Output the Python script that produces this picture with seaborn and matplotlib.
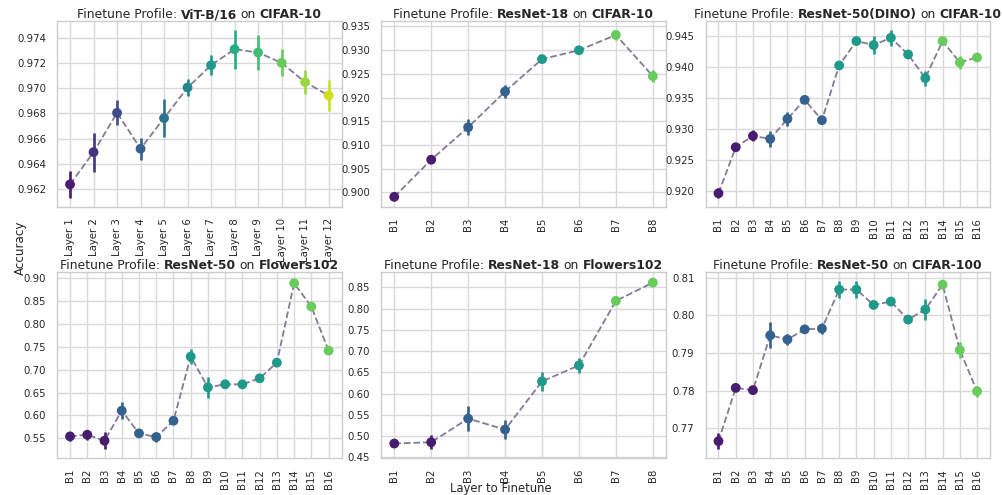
import numpy as np
import matplotlib
matplotlib.use("Agg")
import matplotlib.pyplot as plt
from matplotlib.offsetbox import TextArea, HPacker, AnchoredOffsetbox
from matplotlib.ticker import MultipleLocator
import seaborn as sns

# ---------------- data ----------------
vit_labels = [f"Layer {i}" for i in range(1, 13)]
vit_c10_mean = [0.96237, 0.96493, 0.96805, 0.96520, 0.96763, 0.97006, 0.97183, 0.97310, 0.97284, 0.97202, 0.97049, 0.96943]
vit_c10_err = [0.00110, 0.00155, 0.00100, 0.00086, 0.00150, 0.00070, 0.00080, 0.00155, 0.00136, 0.00107, 0.00097, 0.00120]
vit_groups = list(range(12))

r18_labels = [f"B{i}" for i in range(1, 9)]
r18_groups = [0, 0, 1, 1, 2, 2, 3, 3]
r18_c10_mean = [0.89907, 0.90690, 0.91373, 0.92127, 0.92810, 0.92997, 0.93320, 0.92451]
r18_c10_err = [0.00030, 0.00030, 0.00170, 0.00140, 0.00040, 0.00040, 0.00110, 0.00130]
r18_fl_mean = [0.4828, 0.4859, 0.5414, 0.5156, 0.6289, 0.6664, 0.8180, 0.8609]
r18_fl_err = [0.008, 0.017, 0.029, 0.023, 0.023, 0.018, 0.005, 0.004]

r50_labels = [f"B{i}" for i in range(1, 17)]
r50_groups = [0, 0, 0, 1, 1, 1, 1, 2, 2, 2, 2, 2, 2, 3, 3, 3]
r50dino_c10_mean = [0.91968, 0.92711, 0.92894, 0.92846, 0.93169, 0.93476, 0.93148, 0.94031,
                    0.94425, 0.94360, 0.94478, 0.94209, 0.93827, 0.94425, 0.94080, 0.94160]
r50dino_c10_err = [0.0008, 0.0004, 0.0009, 0.0013, 0.0011, 0.0005, 0.0005, 0.0004,
                   0.0004, 0.0014, 0.0013, 0.0004, 0.0012, 0.0003, 0.0010, 0.0004]
r50_fl_mean = [0.5544, 0.5580, 0.5449, 0.6104, 0.5609, 0.5529, 0.5885, 0.7283,
               0.6613, 0.6679, 0.6679, 0.6810, 0.7152, 0.8884, 0.8374, 0.7414]
r50_fl_err = [0.010, 0.011, 0.019, 0.018, 0.005, 0.010, 0.007, 0.016,
              0.023, 0.008, 0.008, 0.007, 0.007, 0.005, 0.008, 0.005]
r50_c100_mean = [0.7665, 0.7807, 0.7801, 0.7947, 0.7936, 0.7963, 0.7965, 0.8069,
                 0.8069, 0.8028, 0.8037, 0.7989, 0.8016, 0.8082, 0.7908, 0.7798]
r50_c100_err = [0.0022, 0.0005, 0.0005, 0.0035, 0.0015, 0.0006, 0.0014, 0.0022,
                0.0023, 0.0005, 0.0005, 0.0005, 0.0029, 0.0007, 0.0022, 0.0015]

panels = [
    ("ViT-B/16", "CIFAR-10", vit_labels, vit_c10_mean, vit_c10_err, vit_groups, 1, 0.002),
    ("ResNet-18", "CIFAR-10", r18_labels, r18_c10_mean, r18_c10_err, r18_groups, 3, 0.005),
    ("ResNet-50(DINO)", "CIFAR-10", r50_labels, r50dino_c10_mean, r50dino_c10_err, r50_groups, 3, 0.005),
    ("ResNet-50", "Flowers102", r50_labels, r50_fl_mean, r50_fl_err, r50_groups, 3, 0.05),
    ("ResNet-18", "Flowers102", r18_labels, r18_fl_mean, r18_fl_err, r18_groups, 3, 0.05),
    ("ResNet-50", "CIFAR-100", r50_labels, r50_c100_mean, r50_c100_err, r50_groups, 3, 0.01),
]

# ---------------- style ----------------
sns.set_theme(style="whitegrid")
plt.rcParams["font.family"] = ["DejaVu Sans"]
TXT = "#262626"
palette = sns.color_palette("viridis", 12)

fig = plt.figure(figsize=(10.02, 4.95), dpi=100)
axes = fig.subplots(2, 3)
fig.subplots_adjust(left=0.057, right=0.988, top=0.957, bottom=0.075, wspace=0.14, hspace=0.355)

for ax, (model, data, labels, mean, err, groups, step, ytick) in zip(axes.flat, panels):
    mean = np.asarray(mean)
    err = np.asarray(err)
    pos = np.arange(len(labels))
    cols = [palette[g * step] for g in groups]
    cmap = dict(zip(labels, cols))
    sns.lineplot(x=pos, y=mean, ax=ax, color="#867996", linestyle="--", linewidth=1.3, zorder=2)
    ax.vlines(pos, mean - err, mean + err, colors=cols, linewidth=1.9, zorder=3)
    sns.scatterplot(x=pos, y=mean, ax=ax, hue=labels, hue_order=labels, palette=cmap, s=50,
                    edgecolor="none", linewidth=0, legend=False, zorder=4)
    ax.set_xticks(pos)
    ax.set_xticklabels(labels, rotation=90, fontsize=7.3, color=TXT)
    ax.yaxis.set_major_locator(MultipleLocator(ytick))
    ax.tick_params(axis="y", labelsize=7.3, labelcolor=TXT, pad=2)
    ax.tick_params(axis="x", pad=2)
    ax.set_xlabel("")
    ax.set_ylabel("")
    for sp in ax.spines.values():
        sp.set_color("#cccccc")
        sp.set_linewidth(1.0)
    ax.grid(color="#d9d9d9", linewidth=1.0)

    parts = [("Finetune Profile:", "normal"), (model, "bold"), ("on", "normal"), (data, "bold")]
    boxes = [TextArea(t, textprops=dict(fontsize=8.9, fontweight=w, color=TXT)) for t, w in parts]
    pack = HPacker(children=boxes, align="baseline", pad=0, sep=2.6)
    anch = AnchoredOffsetbox(loc="lower center", child=pack, pad=0.0, borderpad=0.0, frameon=False,
                             bbox_to_anchor=(0.5, 1.0), bbox_transform=ax.transAxes)
    anch.set_clip_on(False)
    ax.add_artist(anch)

fig.supylabel("Accuracy", x=0.014, fontsize=8.6, color=TXT)
fig.supxlabel("Layer to Finetune", y=0.0, x=0.5, fontsize=8.4, color=TXT, va="bottom")

fig.savefig("out.png", dpi=100)
